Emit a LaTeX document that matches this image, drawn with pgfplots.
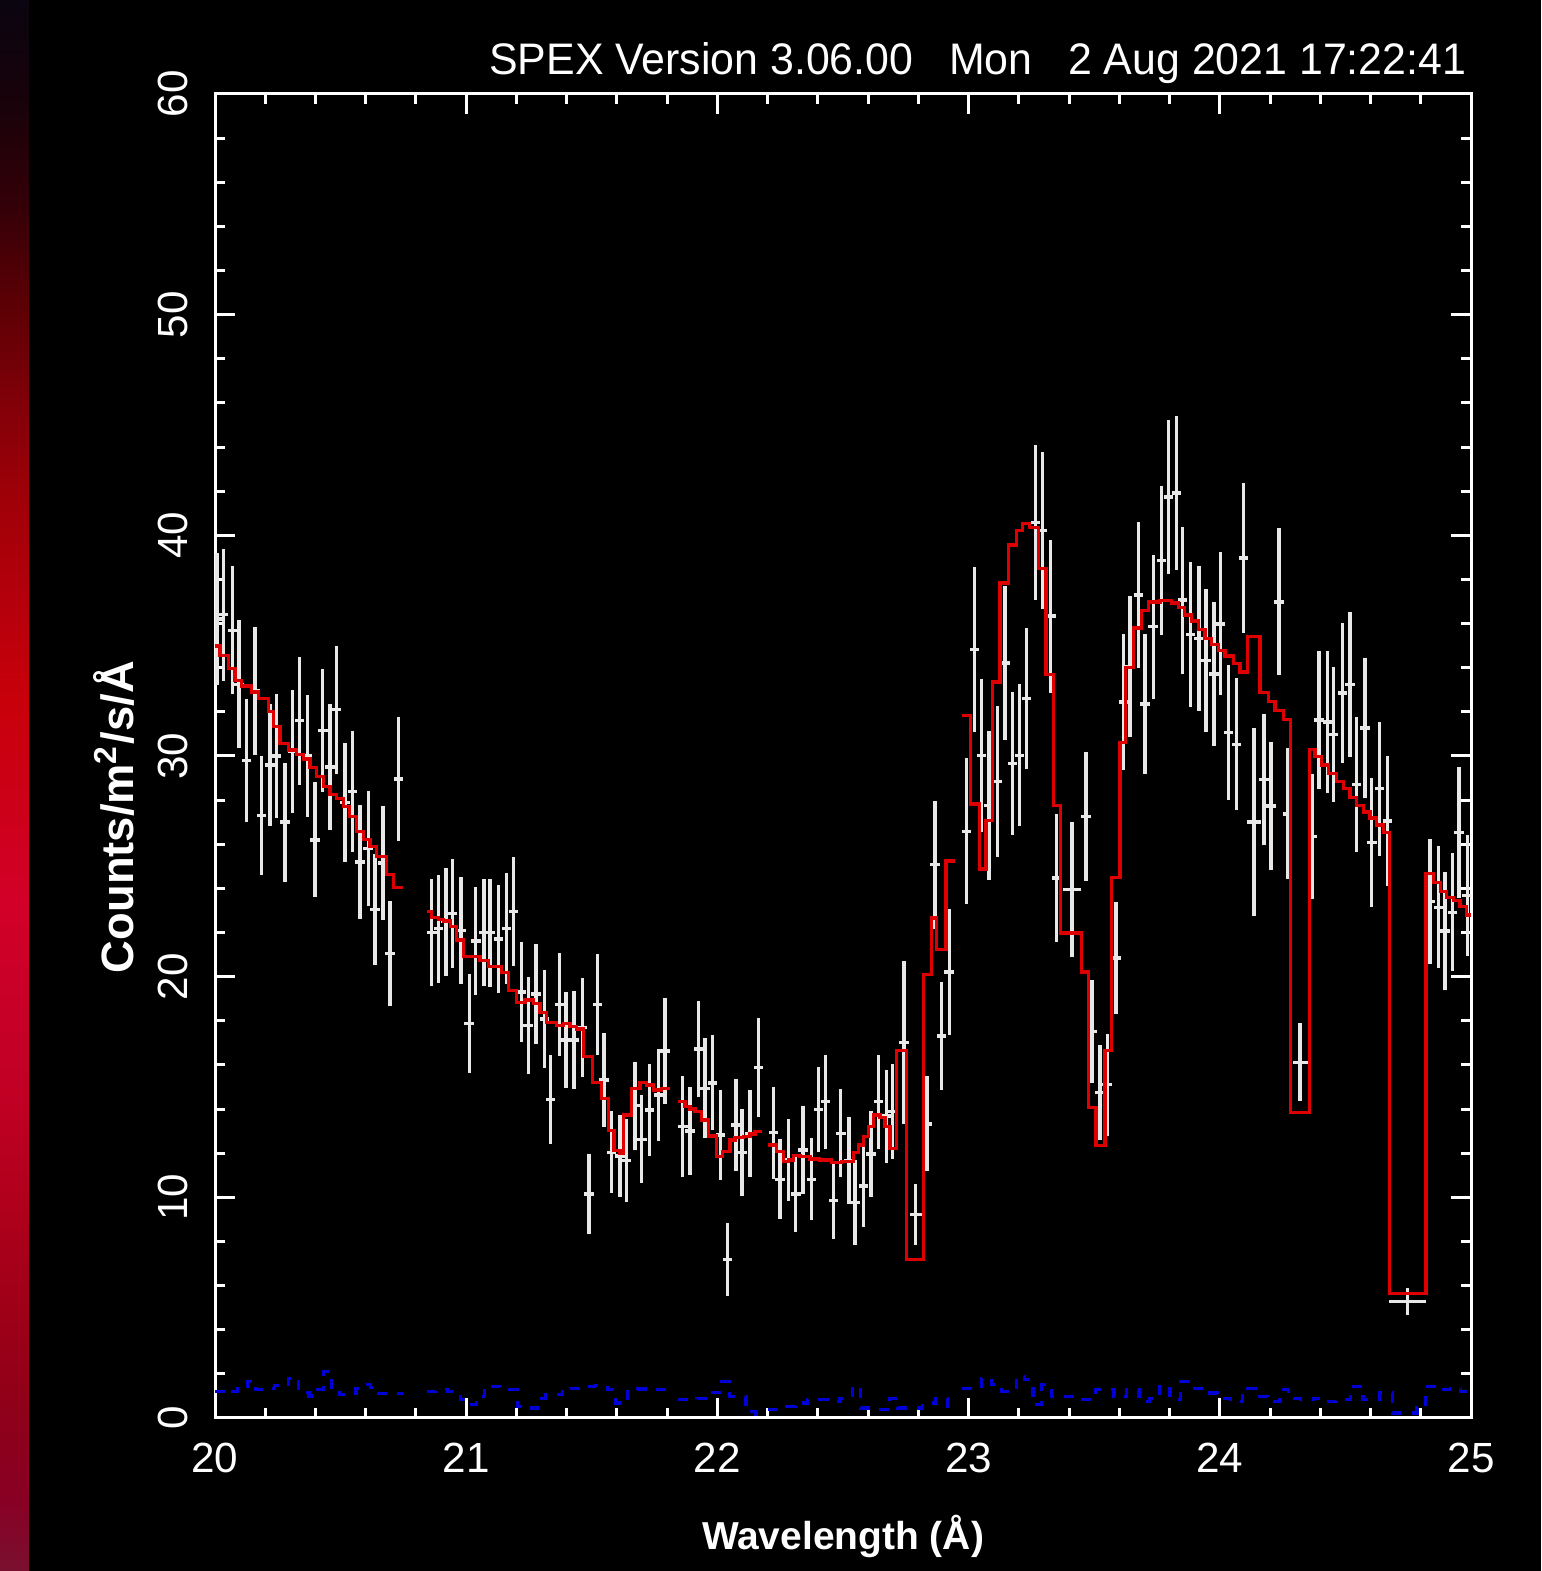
\documentclass[border=0pt]{standalone}
\usepackage{fontspec}
\setmainfont{Liberation Sans}
\usepackage{graphicx}
\usepackage{pgfplots}
\usepackage{pgfplotstable}
\pgfplotsset{compat=1.18}

\definecolor{modelred}{RGB}{222,0,0}
\definecolor{bgblue}{RGB}{0,0,215}
\definecolor{datawhite}{RGB}{232,232,232}
\definecolor{s0}{RGB}{10,5,16}
\definecolor{s1}{RGB}{24,2,10}
\definecolor{s2}{RGB}{50,0,8}
\definecolor{s3}{RGB}{90,0,5}
\definecolor{s4}{RGB}{128,0,8}
\definecolor{s5}{RGB}{160,0,8}
\definecolor{s6}{RGB}{180,0,12}
\definecolor{s7}{RGB}{200,0,10}
\definecolor{s8}{RGB}{204,0,24}
\definecolor{s9}{RGB}{210,0,40}
\definecolor{s10}{RGB}{200,0,40}
\definecolor{s11}{RGB}{192,0,36}
\definecolor{s12}{RGB}{176,0,28}
\definecolor{s13}{RGB}{160,0,24}
\definecolor{s14}{RGB}{144,0,24}
\definecolor{s15}{RGB}{136,0,36}
\definecolor{s16}{RGB}{122,16,48}

\pgfdeclareverticalshading{strip}{100bp}{%
color(0bp)=(s16); color(25bp)=(s16); color(27.26bp)=(s15); color(30.44bp)=(s14);
color(33.63bp)=(s13); color(36.81bp)=(s12); color(39.99bp)=(s11); color(43.17bp)=(s10);
color(46.35bp)=(s9); color(49.54bp)=(s8); color(52.72bp)=(s7); color(55.9bp)=(s6);
color(59.09bp)=(s5); color(62.27bp)=(s4); color(65.45bp)=(s3); color(68.63bp)=(s2);
color(71.82bp)=(s1); color(75bp)=(s0); color(100bp)=(s0)}

\pgfplotstableread{
x y ex ey
20.008 36.2 0.019 3.0
20.033 36.4 0.019 3.0
20.069 35.7 0.019 2.9
20.096 33.25 0.019 2.9
20.126 29.8 0.019 2.8
20.159 32.95 0.019 2.9
20.186 27.3 0.019 2.7
20.219 29.6 0.019 2.75
20.245 30.0 0.019 2.8
20.279 27.0 0.019 2.7
20.309 30.2 0.019 2.8
20.336 31.6 0.019 2.9
20.368 30.0 0.019 2.75
20.398 26.2 0.019 2.6
20.429 31.15 0.019 2.8
20.458 29.5 0.019 2.85
20.484 32.1 0.019 2.9
20.518 27.9 0.019 2.7
20.548 28.4 0.019 2.75
20.577 25.2 0.019 2.6
20.610 25.8 0.019 2.6
20.637 23.05 0.019 2.5
20.668 25.15 0.019 2.6
20.697 21.05 0.019 2.4
20.730 28.95 0.019 2.8
20.863 21.99 0.019 2.43
20.889 22.17 0.019 2.44
20.920 22.49 0.019 2.44
20.946 22.87 0.019 2.47
20.979 22.10 0.019 2.43
21.012 17.88 0.019 2.23
21.038 21.61 0.019 2.44
21.071 21.99 0.019 2.43
21.095 21.99 0.019 2.45
21.128 21.70 0.019 2.45
21.161 22.19 0.019 2.5
21.188 22.94 0.019 2.47
21.221 19.30 0.019 2.28
21.247 17.79 0.019 2.19
21.278 19.21 0.019 2.27
21.311 18.08 0.019 2.23
21.336 14.44 0.019 2.03
21.371 18.74 0.019 2.33
21.397 17.13 0.019 2.19
21.429 17.13 0.019 2.21
21.462 17.70 0.019 2.23
21.489 10.15 0.019 1.81
21.522 18.74 0.019 2.29
21.549 15.31 0.019 2.14
21.579 12.04 0.019 1.85
21.612 11.87 0.019 1.84
21.639 11.66 0.019 1.89
21.672 14.15 0.019 1.99
21.699 12.63 0.019 1.99
21.729 13.96 0.019 2.08
21.765 14.64 0.019 2.08
21.791 16.64 0.019 2.39
21.862 13.2 0.019 2.29
21.891 13.0 0.019 2.0
21.924 16.72 0.019 2.19
21.951 14.94 0.019 2.27
21.981 15.19 0.019 2.15
22.013 12.82 0.019 2.04
22.040 7.19 0.019 1.66
22.074 13.28 0.019 2.1
22.098 12.04 0.019 1.96
22.130 12.9 0.019 1.96
22.163 15.89 0.019 2.23
22.223 12.93 0.019 2.09
22.249 10.82 0.019 1.81
22.283 11.69 0.019 1.85
22.312 10.15 0.019 1.74
22.340 12.14 0.019 2.0
22.375 10.82 0.019 1.85
22.402 13.99 0.019 1.93
22.431 14.33 0.019 2.14
22.462 9.85 0.019 1.74
22.491 12.9 0.019 2.0
22.524 11.66 0.019 1.96
22.548 9.76 0.019 1.93
22.581 10.51 0.019 1.87
22.611 11.96 0.019 1.96
22.641 14.33 0.019 2.14
22.674 13.68 0.019 2.11
22.698 13.88 0.019 2.15
22.743 17.01 0.019 3.68
22.789 9.21 0.024 1.39
22.834 13.33 0.019 2.15
22.866 25.07 0.019 2.9
22.893 17.31 0.019 2.46
22.923 20.21 0.019 2.86
22.992 26.59 0.019 3.3
23.023 34.82 0.019 3.74
23.052 30.03 0.019 3.46
23.081 27.77 0.019 3.38
23.114 28.85 0.019 3.43
23.145 34.21 0.019 3.5
23.175 29.67 0.019 3.23
23.202 30.03 0.019 3.21
23.231 32.61 0.019 3.19
23.267 40.59 0.019 3.52
23.293 40.22 0.019 3.56
23.327 36.34 0.019 3.47
23.351 24.48 0.019 2.91
23.411 23.94 0.035 3.07
23.467 27.26 0.019 2.91
23.492 17.51 0.019 2.33
23.523 14.76 0.019 2.15
23.552 15.10 0.019 2.31
23.586 20.85 0.019 2.55
23.616 32.45 0.019 3.09
23.643 34.05 0.019 3.19
23.676 37.3 0.019 3.29
23.702 32.35 0.019 3.16
23.735 35.86 0.019 3.27
23.768 38.87 0.019 3.37
23.795 41.73 0.019 3.5
23.828 41.91 0.019 3.5
23.852 37.06 0.019 3.33
23.884 35.51 0.019 3.27
23.917 35.32 0.019 3.27
23.945 34.34 0.019 3.24
23.977 33.72 0.019 3.25
24.003 35.99 0.019 3.24
24.034 31.06 0.019 3.07
24.067 30.53 0.019 3.0
24.094 38.98 0.019 3.4
24.136 27.0 0.028 4.27
24.176 28.93 0.019 2.97
24.204 27.73 0.019 2.89
24.236 36.98 0.019 3.33
24.269 27.38 0.019 2.97
24.320 16.12 0.03 1.76
24.369 26.34 0.019 2.84
24.395 31.64 0.019 3.12
24.428 31.54 0.019 3.2
24.452 30.98 0.019 3.07
24.488 32.85 0.019 3.17
24.518 33.24 0.019 3.27
24.545 28.71 0.019 3.07
24.578 31.27 0.019 3.16
24.605 26.07 0.019 2.93
24.635 28.52 0.019 3.03
24.668 27.06 0.019 2.93
24.748 5.27 0.073 0.62
24.837 23.4 0.019 2.83
24.870 23.14 0.019 2.76
24.896 22.07 0.019 2.69
24.927 22.92 0.019 2.67
24.953 26.52 0.019 2.96
24.985 23.67 0.019 2.73
}\datatab

\begin{document}
\begin{tikzpicture}[x=1mm,y=1mm]
\fill[black] (0,0) rectangle (154.1,157.1);
\shade[shading=strip] (0,0) rectangle (2.9,157.1);

\node[anchor=base east, white, inner sep=0pt] at (146.7,149.6)
  {\resizebox{97.7mm}{3.2mm}{SPEX Version 3.06.00\ \ \ Mon\ \ \ 2 Aug 2021 17:22:41}};
\node[anchor=base, white, inner sep=0pt] at (84.3,2.1)
  {\resizebox{28.2mm}{!}{\bfseries Wavelength (Å)}};
\node[anchor=base, rotate=90, white, inner sep=0pt] at (13.3,75.4)
  {\resizebox{31.2mm}{!}{\bfseries Counts/m\textsuperscript{2}/s/Å}};

\begin{axis}[
  at={(21.5mm,15.3mm)}, anchor=south west,
  width=125.6mm, height=132.4mm, scale only axis,
  xmin=20, xmax=25, ymin=0, ymax=60,
  axis line style={white, line width=0.3mm},
  xtick={20,21,22,23,24,25}, ytick={0,10,20,30,40,50,60},
  minor x tick num=4, minor y tick num=4,
  tick align=inside,
  major tick length=2mm, minor tick length=1mm,
  tick style={white, line width=0.3mm},
  /pgf/number format/assume math mode=true,
  ticklabel style={white, font=\fontsize{12}{12}\selectfont, inner sep=0pt},
  xticklabel style={anchor=north},
  xticklabel shift=2.4mm,
  yticklabel style={rotate=90, anchor=south},
  yticklabel shift=2.6mm,
]
% background (blue dashed)
\addplot[bgblue, line width=0.32mm, const plot, dash pattern=on 1mm off 1mm] coordinates {
(20.0,1.2) (20.033,1.28) (20.065,1.2) (20.089,1.43) (20.13,1.65) (20.163,1.28) (20.195,1.35)
(20.236,1.46) (20.26,1.43) (20.293,1.8) (20.333,1.16) (20.374,1.0) (20.407,1.28) (20.431,2.1)
(20.463,1.28) (20.496,1.05) (20.528,1.13) (20.561,1.35) (20.585,1.5) (20.618,1.4) (20.65,1.1) (20.75,1.1)};
\addplot[bgblue, line width=0.32mm, const plot, dash pattern=on 1mm off 1mm] coordinates {
(20.843,1.2) (20.88,1.28) (20.927,1.2) (20.976,0.83) (21.008,0.6) (21.041,0.98) (21.073,1.35)
(21.106,1.43) (21.138,1.28) (21.203,0.53) (21.236,0.45) (21.285,0.9) (21.317,1.05) (21.382,1.28)
(21.415,1.35) (21.463,1.43) (21.512,1.46) (21.561,1.28) (21.593,0.68) (21.642,1.2) (21.683,1.31)
(21.724,1.28) (21.811,1.28)};
\addplot[bgblue, line width=0.32mm, const plot, dash pattern=on 1mm off 1mm] coordinates {
(21.844,0.83) (21.919,0.9) (21.959,1.16) (22.008,1.65) (22.049,0.98) (22.114,0.3) (22.154,0.08) (22.176,0.08)};
\addplot[bgblue, line width=0.32mm, const plot, dash pattern=on 1mm off 1mm] coordinates {
(22.203,0.38) (22.26,0.53) (22.309,0.68) (22.358,0.83) (22.438,0.75) (22.488,0.9) (22.537,1.43)
(22.570,0.45) (22.636,0.38) (22.686,0.9) (22.719,0.45) (22.818,0.68) (22.868,0.9) (22.917,0.53) (22.946,0.53)};
\addplot[bgblue, line width=0.32mm, const plot, dash pattern=on 1mm off 1mm] coordinates {
(22.973,1.35) (23.05,1.8) (23.091,1.5) (23.132,1.2) (23.19,1.88) (23.223,1.73) (23.256,0.6)
(23.289,1.5) (23.331,0.98) (23.43,0.83) (23.504,1.28) (23.579,0.98) (23.628,1.28) (23.678,0.75)
(23.719,0.9) (23.76,1.43) (23.802,0.83) (23.843,1.65) (23.893,1.35) (23.942,1.13) (23.992,0.9)
(24.041,0.75) (24.091,1.35) (24.14,0.98) (24.19,0.75) (24.24,1.28) (24.273,0.9) (24.322,0.83)
(24.372,0.9) (24.421,0.75) (24.463,0.83) (24.521,1.43) (24.57,0.83) (24.636,1.13) (24.686,0.23)
(24.785,0.45) (24.818,1.43) (24.868,1.28) (24.917,1.35) (24.959,1.2) (25.0,1.2)};

% data with error bars
\addplot[datawhite, line width=0.34mm, only marks, mark size=0pt,
  mark options={draw=none, fill=none},
  error bars/.cd, x dir=both, x explicit, y dir=both, y explicit,
  error mark=none, error bar style={datawhite, line width=0.34mm}]
  table[x=x, y=y, x error=ex, y error=ey] {\datatab};

% model (red)
\addplot[modelred, line width=0.32mm, const plot] coordinates {
(20.000,34.98) (20.020,34.56) (20.053,33.98) (20.080,33.43) (20.106,33.17) (20.146,32.9) (20.172,32.6)
(20.212,32.03) (20.232,31.32) (20.259,30.57) (20.292,30.27) (20.325,30.05) (20.352,29.86) (20.378,29.47)
(20.405,29.07) (20.431,28.62) (20.458,28.24) (20.484,28.09) (20.511,27.71) (20.537,27.26) (20.564,26.59)
(20.590,26.2) (20.617,25.9) (20.643,25.46) (20.683,24.63) (20.710,24.03) (20.750,24.03)};
\addplot[modelred, line width=0.32mm, const plot] coordinates {
(20.843,22.97) (20.863,22.67) (20.889,22.6) (20.909,22.52) (20.936,22.29) (20.962,21.66) (20.989,20.93)
(21.055,20.75) (21.088,20.45) (21.141,20.18) (21.168,19.39) (21.201,18.82) (21.234,18.94) (21.267,18.79)
(21.294,18.37) (21.320,17.91) (21.360,17.79) (21.386,17.88) (21.413,17.73) (21.439,17.63) (21.466,16.37)
(21.503,15.19) (21.539,14.48) (21.566,13.02) (21.588,12.11) (21.612,11.99) (21.625,13.73) (21.658,14.94)
(21.692,15.21) (21.718,15.09) (21.745,14.86) (21.778,14.94) (21.811,14.94)};
\addplot[modelred, line width=0.32mm, const plot] coordinates {
(21.844,14.33) (21.871,14.11) (21.891,14.0) (21.911,13.88) (21.938,13.5) (21.964,12.78) (21.997,11.84)
(22.021,12.07) (22.050,12.6) (22.070,12.7) (22.103,12.75) (22.130,12.87) (22.150,12.97) (22.176,12.97)};
\addplot[modelred, line width=0.32mm, const plot] coordinates {
(22.203,12.37) (22.236,12.07) (22.262,11.64) (22.283,11.69) (22.302,11.89) (22.329,11.84) (22.369,11.74)
(22.408,11.69) (22.455,11.59) (22.494,11.61) (22.541,12.04) (22.561,12.37) (22.581,12.75) (22.601,13.2)
(22.621,13.73) (22.647,13.62) (22.667,13.2) (22.687,12.22) (22.714,16.67) (22.754,7.17) (22.820,20.09)
(22.853,22.66) (22.873,21.24) (22.910,25.24) (22.946,25.24)};
\addplot[modelred, line width=0.32mm, const plot] coordinates {
(22.973,31.83) (23.008,27.82) (23.043,24.88) (23.069,27.09) (23.096,33.35) (23.125,37.84) (23.158,39.56)
(23.191,40.22) (23.215,40.52) (23.244,40.34) (23.278,38.5) (23.308,33.71) (23.337,27.75) (23.367,21.98)
(23.450,20.21) (23.477,14.07) (23.507,12.35) (23.543,16.65) (23.570,24.5) (23.603,30.6) (23.623,34.0)
(23.656,35.8) (23.689,36.6) (23.716,36.98) (23.762,37.06) (23.809,36.93) (23.835,36.74) (23.861,36.39)
(23.888,36.12) (23.915,35.73) (23.941,35.32) (23.968,35.06) (23.994,34.79) (24.021,34.53) (24.054,34.18)
(24.080,33.81) (24.110,35.41) (24.160,32.87) (24.193,32.47) (24.220,32.07) (24.253,31.64) (24.280,13.86)
(24.356,30.31) (24.379,29.99) (24.405,29.59) (24.432,29.19) (24.465,28.84) (24.491,28.52) (24.518,28.12)
(24.545,27.77) (24.571,27.46) (24.598,27.19) (24.624,26.87) (24.651,26.52) (24.675,5.64) (24.821,24.66)
(24.850,24.26) (24.877,23.86) (24.903,23.59) (24.930,23.46) (24.956,23.19) (24.983,22.79) (25.0,22.79)};
\end{axis}
\end{tikzpicture}
\end{document}
